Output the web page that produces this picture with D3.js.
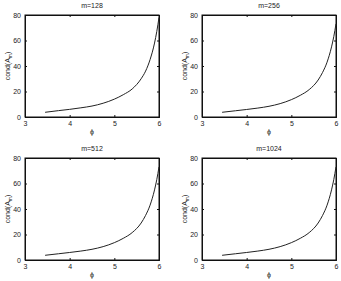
<!DOCTYPE html>
<html>
<head>
<meta charset="utf-8">
<script src="https://cdn.jsdelivr.net/npm/d3@7"></script>
<style>
  body { margin: 0; background: #fff; }
  text { font-family: "Liberation Sans", Arial, sans-serif; fill: #222; }
</style>
</head>
<body>
<div id="chart"></div>
<script>
// phi sample points
var phi = [3.45, 3.75, 4, 4.25, 4.5, 4.75, 5, 5.2, 5.4, 5.6, 5.7, 5.8, 5.9, 5.95, 6];

var cond128  = [3.7, 5.0, 6.0, 7.2, 8.6, 10.8, 14.0, 17.5, 22.0, 30.0, 36.0, 45.0, 58.0, 67.0, 78.0];
var cond256  = [3.7, 4.9, 5.9, 7.0, 8.4, 10.5, 13.6, 17.0, 21.5, 29.0, 35.0, 43.0, 55.0, 63.0, 73.0];
var cond512  = [3.7, 4.9, 5.9, 7.0, 8.4, 10.5, 13.6, 17.0, 21.5, 29.0, 35.0, 43.0, 55.0, 63.0, 73.0];
var cond1024 = [3.7, 4.9, 5.9, 7.0, 8.4, 10.5, 13.6, 17.0, 21.5, 29.0, 35.0, 43.0, 55.0, 63.0, 73.0];

var titles = ["m=128", "m=256", "m=512", "m=1024"];
var xTicks = [3, 4, 5, 6];
var yTicks = [0, 20, 40, 60, 80];

var panels = [
    {title: titles[0], values: cond128,  left: 25,  top: 15},
    {title: titles[1], values: cond256,  left: 202, top: 15},
    {title: titles[2], values: cond512,  left: 25,  top: 158},
    {title: titles[3], values: cond1024, left: 202, top: 158}
];

var pw = 134, ph = 102;

var svg = d3.select("#chart")
    .append("svg")
    .attr("width", 341)
    .attr("height", 281);

panels.forEach(function(p) {
    var g = svg.append("g")
        .attr("transform", "translate(" + p.left + "," + p.top + ")");

    var x = d3.scaleLinear().domain([3, 6]).range([0, pw]);
    var y = d3.scaleLinear().domain([0, 80]).range([ph, 0]);

    // ticks mirrored on all sides, pointing inward like matlab
    g.append("g")
        .attr("transform", "translate(0," + ph + ")")
        .call(d3.axisBottom(x).tickValues(xTicks).tickSize(-2).tickPadding(4).tickFormat(d3.format("d")));
    g.append("g")
        .call(d3.axisTop(x).tickValues(xTicks).tickSize(-2).tickFormat(""));
    g.append("g")
        .call(d3.axisLeft(y).tickValues(yTicks).tickSize(-2).tickPadding(4));
    g.append("g")
        .attr("transform", "translate(" + pw + ",0)")
        .call(d3.axisRight(y).tickValues(yTicks).tickSize(-2).tickFormat(""));

    g.selectAll(".domain").attr("stroke", "#111");
    g.selectAll(".tick line").attr("stroke", "#111");
    g.selectAll(".tick text")
        .style("font-size", "7px")
        .style("font-family", "Liberation Sans, Arial, sans-serif")
        .attr("fill", "#222");

    g.append("rect")
        .attr("width", pw)
        .attr("height", ph)
        .attr("fill", "none")
        .attr("stroke", "#111")
        .attr("stroke-width", 1);

    var line = d3.line()
        .x(function(d, i) { return x(phi[i]) })
        .y(function(d) { return y(d) })
        .curve(d3.curveMonotoneX);

    g.append("path")
        .datum(p.values)
        .attr("fill", "none")
        .attr("stroke", "#222")
        .attr("stroke-width", 1)
        .attr("d", line);

    g.append("text")
        .attr("x", pw / 2)
        .attr("y", -7)
        .attr("fill", "#222")
        .style("text-anchor", "middle")
        .style("font-size", "7px")
        .text(p.title);

    g.append("text")
        .attr("x", pw / 2)
        .attr("y", ph + 17)
        .attr("fill", "#222")
        .style("text-anchor", "middle")
        .style("font-size", "7px")
        .text("\u03d5");

    var yl = g.append("text")
        .attr("transform", "rotate(-90)")
        .attr("x", -ph / 2)
        .attr("y", -15)
        .attr("fill", "#222")
        .style("text-anchor", "middle")
        .style("font-size", "7px");
    yl.append("tspan").text("cond(A");
    yl.append("tspan").attr("dy", 2).style("font-size", "5px").text("m");
    yl.append("tspan").attr("dy", -2).text(")");
});
</script>
</body>
</html>
